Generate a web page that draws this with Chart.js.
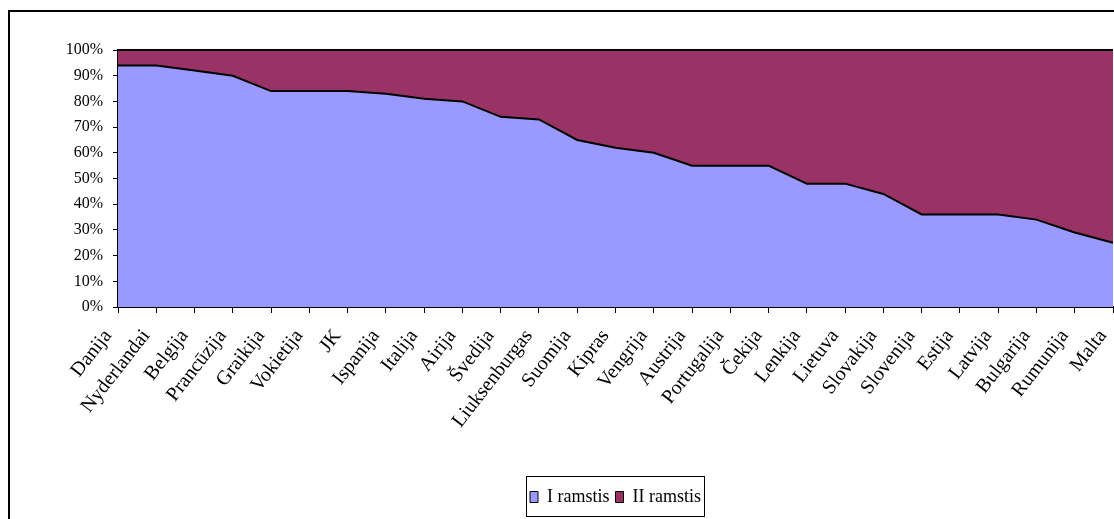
<!DOCTYPE html>
<html>
<head>
<meta charset="utf-8">
<script src="https://cdn.jsdelivr.net/npm/chart.js@4"></script>
<style>
    html, body { margin: 0; padding: 0; background: #fff; }
    #wrap { position: relative; width: 1114px; height: 519px; overflow: hidden; }
    #frame {
        position: absolute; left: 8px; top: 10px; right: -10px; bottom: -10px;
        border-left: 2px solid #000; border-top: 2px solid #000;
    }
    #chart { position: absolute; left: 0; top: 0; }
</style>
</head>
<body>
<div id="wrap">
    <div id="frame"></div>
    <canvas id="chart" width="1114" height="519"></canvas>
</div>
<script>
// valstybės
const categories = [
    'Danija', 'Nyderlandai', 'Belgija', 'Prancūzija', 'Graikija', 'Vokietija', 'JK',
    'Ispanija', 'Italija', 'Airija', 'Švedija', 'Liuksenburgas', 'Suomija', 'Kipras',
    'Vengrija', 'Austrija', 'Portugalija', 'Čekija', 'Lenkija', 'Lietuva', 'Slovakija',
    'Slovenija', 'Estija', 'Latvija', 'Bulgarija', 'Rumunija', 'Malta'
];

// I ramstis (%)
const pillar1 = [94, 94, 92, 90, 84, 84, 84, 83, 81, 80, 74, 73, 65, 62,
    60, 55, 55, 55, 48, 48, 44, 36, 36, 36, 34, 29, 25];

// II ramstis (%)
const pillar2 = [6, 6, 8, 10, 16, 16, 16, 17, 19, 20, 26, 27, 35, 38,
    40, 45, 45, 45, 52, 52, 56, 64, 64, 64, 66, 71, 75];

const yTicks = [0, 10, 20, 30, 40, 50, 60, 70, 80, 90, 100];

const FONT = 'Liberation Serif, Times New Roman, serif';

// rėmelis aplink legendą
const legendFrame = {
    id: 'legendFrame',
    afterDraw(chart) {
        const boxes = chart.legend.legendHitBoxes;
        if (!boxes || !boxes.length) return;
        const first = boxes[0];
        const last = boxes[boxes.length - 1];
        const ctx = chart.ctx;
        ctx.save();
        ctx.strokeStyle = '#000';
        ctx.lineWidth = 1;
        const x1 = first.left - 4, x2 = last.left + last.width + 3;
        const y1 = first.top - 12, y2 = first.top + first.height + 10;
        ctx.strokeRect(Math.round(x1) + 0.5, Math.round(y1) + 0.5, Math.round(x2 - x1), Math.round(y2 - y1));
        ctx.restore();
    }
};

new Chart(document.getElementById('chart'), {
    type: 'line',
    data: {
        labels: categories,
        datasets: [
            {
                label: 'I ramstis',
                data: pillar1,
                backgroundColor: '#9999FF',
                borderColor: '#000',
                borderWidth: 2,
                fill: 'origin',
                tension: 0,
                pointRadius: 0,
                clip: 3
            },
            {
                label: 'II ramstis',
                data: pillar2,
                backgroundColor: '#993366',
                borderColor: '#000',
                borderWidth: 2,
                fill: '-1',
                tension: 0,
                pointRadius: 0,
                clip: 3
            }
        ]
    },
    options: {
        responsive: false,
        animation: false,
        layout: { padding: { left: 0, top: 50, right: 1, bottom: 3 } },
        plugins: {
            legend: {
                position: 'bottom',
                fullSize: false,
                labels: {
                    color: '#000',
                    font: { family: FONT, size: 18 },
                    boxWidth: 8,
                    boxHeight: 11,
                    padding: 6,
                    generateLabels(chart) {
                        const items = Chart.defaults.plugins.legend.labels.generateLabels(chart);
                        items.forEach((it) => { it.lineWidth = 1; });
                        return items;
                    }
                }
            },
            tooltip: { enabled: false },
            filler: { propagate: false }
        },
        scales: {
            x: {
                offset: false,
                grid: { drawOnChartArea: false, drawTicks: true, tickLength: 6, color: '#000' },
                border: { color: '#000', width: 2 },
                ticks: {
                    color: '#000',
                    font: { family: FONT, size: 20 },
                    maxRotation: 52,
                    minRotation: 52,
                    autoSkip: false,
                    padding: 12,
                    labelOffset: -10
                },
                afterFit(scale) {
                    scale.height = 175;
                    scale.paddingRight = 0;
                    scale.paddingLeft = 0;
                }
            },
            y: {
                stacked: true,
                min: 0,
                max: 100,
                grid: { drawOnChartArea: false, drawTicks: true, tickLength: 5, color: '#000' },
                border: { color: '#000', width: 2 },
                afterBuildTicks(scale) {
                    scale.ticks = yTicks.map((v) => ({ value: v }));
                },
                ticks: {
                    color: '#000',
                    font: { family: FONT, size: 16 },
                    padding: 10,
                    callback: (v) => v + '%'
                },
                afterFit(scale) {
                    scale.width = 118;
                }
            }
        }
    },
    plugins: [legendFrame]
});
</script>
</body>
</html>
